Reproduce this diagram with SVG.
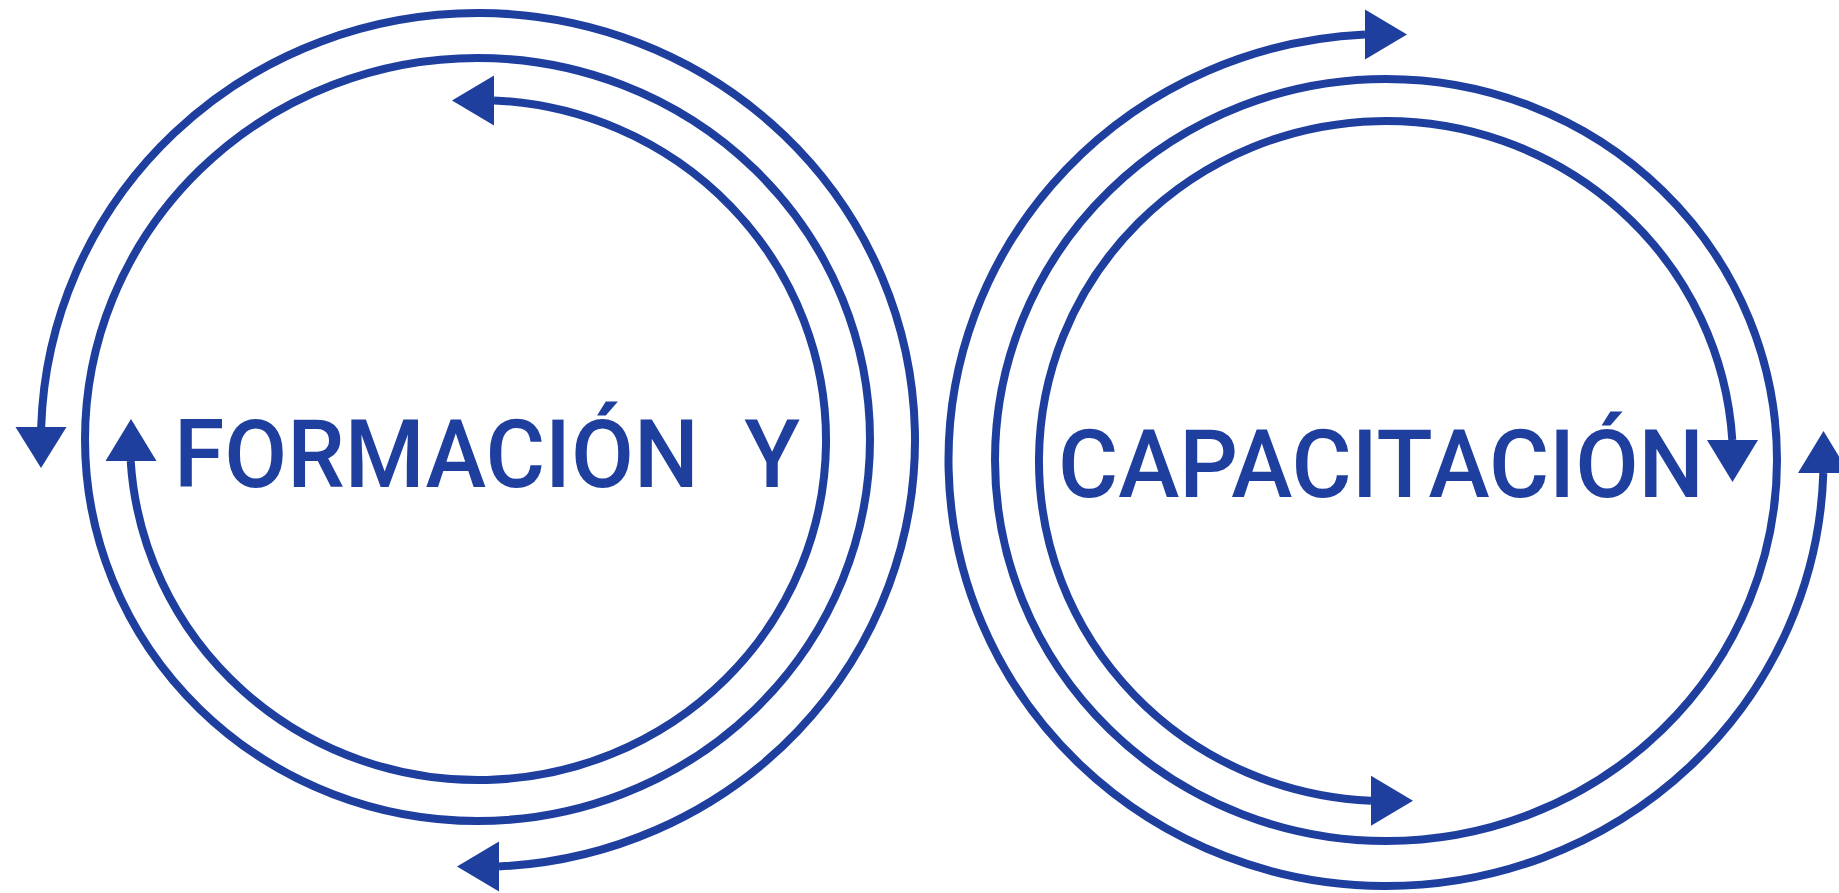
<svg xmlns="http://www.w3.org/2000/svg" width="1839" height="893" viewBox="0 0 1839 893">
  <style>
    .ring { fill: none; stroke: #1f3f9f; stroke-width: 8; }
    .arc { fill: none; stroke: #1f3f9f; stroke-width: 8; }
    .head { fill: #1f3f9f; stroke: none; }
    .label { font-family: Roboto, "Liberation Sans", Arial, sans-serif; font-weight: 500; font-size: 94px; fill: #1f3f9f; }
  </style>
  <rect width="1839" height="893" fill="#ffffff"/>

  <g id="node-formacion">
    <ellipse class="ring" cx="477.5" cy="439.5" rx="392.5" ry="381.5"/>
    <text class="label" x="174" y="487" textLength="626" lengthAdjust="spacingAndGlyphs" xml:space="preserve">FORMACIÓN  Y</text>
  </g>

  <g id="node-capacitacion">
    <ellipse class="ring" cx="1386" cy="460" rx="391" ry="381"/>
    <text class="label" x="1058" y="497" textLength="646" lengthAdjust="spacingAndGlyphs">CAPACITACIÓN</text>
  </g>

  <g id="connectors">
    <!-- left outer arc -->
    <path class="arc" d="M 41.2 427 A 437 427 0 1 1 499 866.5"/>
    <polygon class="head" points="15.5,427 66.5,427 41,468"/>
    <polygon class="head" points="499,841.5 499,891.5 457,866.5"/>
    <!-- left inner arc -->
    <path class="arc" d="M 494 100.4 A 348 340 0 1 1 130.7 461"/>
    <polygon class="head" points="494,75.4 494,125.4 452,100.4"/>
    <polygon class="head" points="105.5,461 156.5,461 131,419"/>
    <!-- right outer arc -->
    <path class="arc" d="M 1365 34.5 A 437.5 426 0 1 0 1823.3 473"/>
    <polygon class="head" points="1365,9.5 1365,59.5 1407,34.5"/>
    <polygon class="head" points="1798,473 1849,473 1823.5,431"/>
    <!-- right inner arc -->
    <path class="arc" d="M 1732.3 440 A 347 340 0 1 0 1371 800.7"/>
    <polygon class="head" points="1707,440 1758,440 1732.5,482"/>
    <polygon class="head" points="1371,775.7 1371,825.7 1413,800.7"/>
  </g>
</svg>
